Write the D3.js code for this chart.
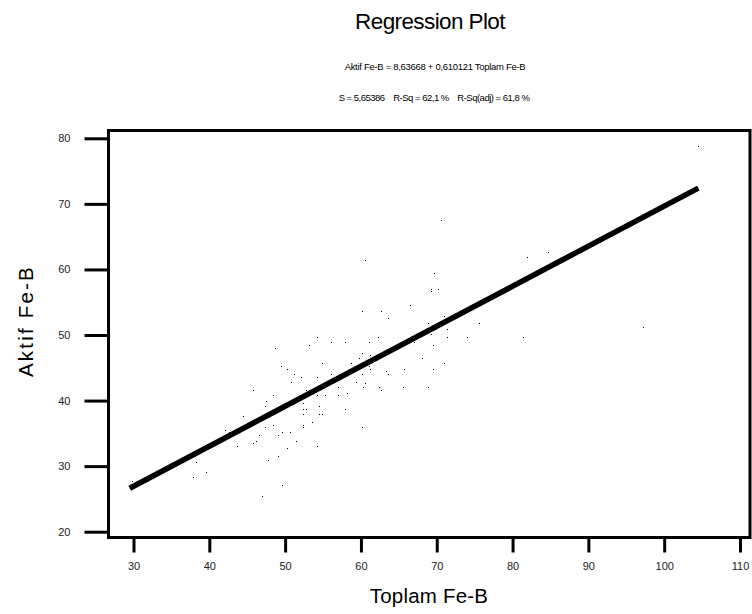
<!DOCTYPE html>
<html>
<head>
<meta charset="utf-8">
<script src="https://cdn.jsdelivr.net/npm/d3@7"></script>
<style>
  html, body { margin: 0; padding: 0; background: #fff; }
  svg { display: block; font-family: "Liberation Sans", Arial, sans-serif; }
</style>
</head>
<body>
<svg id="chart" width="752" height="614"></svg>
<script>
// ---- Data ----
const toplamFeB = [54.2,53.1,48.7,54.8,49.4,50.3,51.2,52.1,54.2,50.8,45.7,52.7,48.4,54.2,55.2,47.5,52.4,47.3,54.5,52.4,52.7,52.4,54.5,54.8,44.5,53.6,52.4,52.4,48.4,47.3,42.1,42.6,49.6,50.6,46.6,49.1,46.1,45.7,51.5,43.6,54.2,50.3,49.1,47.8,38.3,39.6,37.8,49.6,46.9,57.0,57.0,58.2,57.9,60.6,29.8,70.5,60.6,69.7,69.2,69.2,70.1,66.5,60.1,62.7,63.6,71.0,68.9,69.2,71.3,71.3,56.1,57.9,61.0,62.2,67.0,69.5,60.1,59.7,61.2,58.7,61.0,61.2,68.0,71.0,65.7,69.5,63.3,63.6,56.1,60.1,59.4,60.3,62.4,62.7,65.5,68.9,104.5,81.9,84.7,75.6,97.2,74.0,81.4,60.1];
const aktifFeB = [49.7,48.4,48.0,45.7,45.2,44.8,44.0,43.6,43.6,42.8,41.6,41.6,40.8,40.8,40.8,40.0,39.6,39.1,39.1,38.7,38.7,37.9,37.9,37.9,37.6,36.7,36.2,35.9,36.2,35.9,35.5,35.2,35.2,35.2,34.7,34.7,33.8,33.5,33.8,33.0,33.0,32.7,31.5,31.0,30.6,29.1,28.3,27.1,25.4,42.0,40.8,41.1,38.7,42.7,27.8,67.5,61.4,59.4,57.0,56.7,57.0,54.5,53.6,53.6,52.6,52.9,51.8,50.1,50.9,49.7,48.9,48.9,48.9,49.7,48.9,48.4,47.2,46.5,46.9,45.7,45.2,44.8,46.5,45.7,44.8,44.8,44.5,44.0,44.0,44.0,42.8,42.0,42.0,41.6,42.0,42.0,78.8,61.9,62.6,51.8,51.2,49.7,49.7,35.9];
const fitIntercept = 8.63668;
const fitSlope = 0.610121;
const fitRange = [29.5, 104.5];
const xTicks = [30, 40, 50, 60, 70, 80, 90, 100, 110];
const yTicks = [20, 30, 40, 50, 60, 70, 80];
const titleText = "Regression Plot";
const equationText = "Aktif Fe-B = 8,63668 + 0,610121 Toplam Fe-B";
const statsText = "S = 5,65386    R-Sq = 62,1 %    R-Sq(adj) = 61,8 %";
const xLabel = "Toplam Fe-B";
const yLabel = "Aktif Fe-B";

// ---- Layout ----
const svg = d3.select("#chart");
const frame = {left: 108.5, right: 750, top: 130.5, bottom: 537.5};

const x = d3.scaleLinear().domain([30, 110]).range([133.5, 740]);
const y = d3.scaleLinear().domain([20, 80]).range([531.7, 138.3]);

// Frame
svg.append("rect")
  .attr("x", frame.left).attr("y", frame.top)
  .attr("width", frame.right - frame.left).attr("height", frame.bottom - frame.top)
  .attr("fill", "none").attr("stroke", "#000").attr("stroke-width", 3);

// X axis
const xAxis = d3.axisBottom(x).tickValues(xTicks).tickSize(15).tickPadding(10).tickFormat(d3.format("d"));
const gx = svg.append("g").attr("transform", `translate(0,${frame.bottom})`).call(xAxis);
gx.select(".domain").remove();
gx.selectAll(".tick line").attr("stroke", "#000").attr("stroke-width", 3);
gx.selectAll(".tick text").attr("font-size", 11).attr("fill", "#222")
  .attr("font-family", "Liberation Sans, Arial, sans-serif");

// Y axis
const yAxis = d3.axisLeft(y).tickValues(yTicks).tickSize(24).tickPadding(14).tickFormat(d3.format("d"));
const gy = svg.append("g").attr("transform", `translate(${frame.left},0)`).call(yAxis);
gy.select(".domain").remove();
gy.selectAll(".tick line").attr("stroke", "#000").attr("stroke-width", 3);
gy.selectAll(".tick text").attr("font-size", 11).attr("fill", "#222")
  .attr("font-family", "Liberation Sans, Arial, sans-serif");

// Scatter points (tiny 1px dots)
svg.append("g").attr("shape-rendering", "crispEdges").selectAll("rect.pt")
  .data(toplamFeB.map((v, i) => [v, aktifFeB[i]]))
  .join("rect").attr("class", "pt")
  .attr("x", d => Math.round(x(d[0])))
  .attr("y", d => Math.round(y(d[1])))
  .attr("width", 1).attr("height", 1)
  .attr("fill", "#000");

// Fit line
const fitPts = fitRange.map(v => [v, fitIntercept + fitSlope * v]);
svg.append("path")
  .attr("d", d3.line().x(d => x(d[0])).y(d => y(d[1]))(fitPts))
  .attr("fill", "none").attr("stroke", "#000").attr("stroke-width", 5.5);

// Titles
svg.append("text").attr("x", 430).attr("y", 29).attr("text-anchor", "middle")
  .attr("font-size", 22.5).attr("letter-spacing", -0.6).text(titleText);
svg.append("text").attr("x", 435).attr("y", 70).attr("text-anchor", "middle")
  .attr("font-size", 9.5).attr("letter-spacing", -0.3).text(equationText);
svg.append("text").attr("x", 434).attr("y", 101).attr("text-anchor", "middle")
  .attr("font-size", 9.5).attr("letter-spacing", -0.5)
  .style("white-space", "pre").text(statsText);

svg.append("text").attr("x", 429).attr("y", 603).attr("text-anchor", "middle")
  .attr("font-size", 20.5).attr("letter-spacing", 0.2).text(xLabel);
svg.append("text").attr("transform", "translate(33,321) rotate(-90)").attr("text-anchor", "middle")
  .attr("font-size", 20.5).attr("letter-spacing", 2.2).style("white-space", "pre").text(yLabel);
</script>
</body>
</html>
